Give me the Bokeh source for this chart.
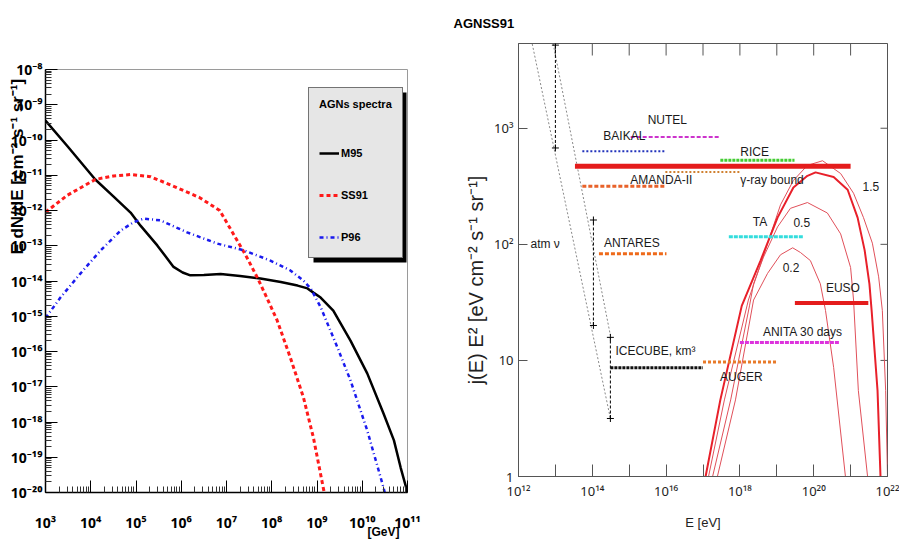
from math import pi
from bokeh.plotting import figure
from bokeh.layouts import row
from bokeh.models import FixedTicker, Label, Legend, LegendItem, BoxAnnotation
from bokeh.embed import file_html
from bokeh.resources import INLINE

SANS = "Liberation Sans"
TICKF = "Noto Sans"
SUP = str.maketrans("0123456789-", "⁰¹²³⁴⁵⁶⁷⁸⁹⁻")
EMSP = "\u2003"

# ---------------- left panel: AGN spectra (log10 E [GeV], log10 E dN/dE) ----------------
m95_logE = [3.0, 3.5, 4.1, 4.5, 4.88, 5.1, 5.47, 5.83, 6.03, 6.2, 6.5, 6.87, 7.3, 7.75, 8.2,
            8.57, 8.79, 8.92, 9.08, 9.36, 9.74, 10.11, 10.47, 10.7, 10.85, 11.0]
m95_logF = [-9.45, -10.2, -11.12, -11.6, -12.06, -12.43, -12.99, -13.6, -13.76, -13.84, -13.83,
            -13.8, -13.86, -13.93, -14.03, -14.13, -14.21, -14.33, -14.47, -14.84, -15.69,
            -16.62, -17.76, -18.52, -19.3, -20.0]
ss91_logE = [3.0, 3.48, 4.1, 4.5, 4.88, 5.32, 5.9, 6.4, 6.85, 7.2, 7.45, 7.7, 7.9, 8.12, 8.41,
             8.7, 8.92, 9.15, 9.2]
ss91_logF = [-12.05, -11.57, -11.12, -11.02, -10.98, -11.04, -11.35, -11.63, -12.0, -12.77,
             -13.33, -13.95, -14.5, -15.12, -16.17, -17.3, -18.44, -19.94, -20.3]
p96_logE = [3.0, 3.33, 3.77, 4.22, 4.66, 4.95, 5.17, 5.54, 6.13, 6.8, 7.38, 7.97, 8.41, 8.7,
            8.86, 9.08, 9.45, 9.74, 10.11, 10.47, 10.55]
p96_logF = [-15.05, -14.47, -13.79, -13.13, -12.57, -12.33, -12.23, -12.28, -12.62, -12.94,
            -13.13, -13.42, -13.7, -13.99, -14.21, -14.74, -15.88, -16.82, -18.24, -19.86, -20.3]
legend_names = ["M95", "SS91", "P96"]
left_x_decades = list(range(3, 12))      # 10^3 .. 10^11 GeV
left_y_decades = list(range(-20, -7))    # 10^-20 .. 10^-8

# ---------------- right panel: sensitivities (log10 E [eV], j(E) E^2) ----------------
band_names = ["NUTEL", "BAIKAL", "RICE", "gamma", "AMANDA-UHE", "AMANDA-II", "TA", "ANTARES",
              "EUSO", "ANITA", "ICECUBE", "AUGER"]
band_logx0 = [15.04, 13.73, 17.47, 13.53, 15.98, 13.73, 17.70, 14.18, 19.49, 18.00, 14.49, 17.00]
band_logx1 = [17.47, 16.00, 19.48, 21.00, 18.00, 16.00, 19.72, 16.01, 21.48, 20.71, 17.00, 18.99]
band_level = [841, 633, 530, 470, 420, 316, 116, 83, 31.2, 14.3, 8.65, 9.67]

# vertical atmospheric-neutrino error bars (log10 E, y_low, y_high)
atm_logx = [13.0, 14.03, 14.49]
atm_ylo = [676, 20.0, 3.16]
atm_yhi = [5200, 162, 15.8]
# atmospheric-neutrino dotted lines
atmA_logx = [12.35, 14.49]
atmA_logy = [3.76, 0.5]
atmB_logx = [12.92, 14.49]
atmB_logy = [3.76, 1.216]

# neutrino flux curves (log10 E, log10 j E^2)
c02_logx = [17.39, 17.88, 18.37, 18.75, 19.10, 19.43, 19.64, 19.91, 20.18, 20.32, 20.54, 20.86]
c02_logy = [0.0, 0.66, 1.52, 1.75, 1.91, 1.97, 1.93, 1.86, 1.66, 1.43, 0.94, 0.0]
c05_logx = [17.26, 17.75, 18.26, 18.37, 18.64, 19.02, 19.37, 19.83, 20.37, 20.73, 21.0, 21.08,
            21.21, 21.46]
c05_logy = [0.0, 0.66, 1.47, 1.66, 1.89, 2.15, 2.31, 2.36, 2.27, 2.09, 1.80, 1.52, 0.74, 0.0]
cth_logx = [17.07, 17.47, 18.05, 18.56, 19.02, 19.45, 19.83, 20.05, 20.54, 20.92, 21.19, 21.38,
            21.51, 21.57, 21.73, 21.81]
cth_logy = [0.0, 0.66, 1.47, 1.86, 2.23, 2.49, 2.59, 2.62, 2.58, 2.47, 2.23, 1.95, 1.66, 1.43,
            0.74, 0.0]
c15_logx = [17.15, 17.58, 18.23, 18.69, 19.10, 19.45, 19.83, 20.24, 20.73, 21.08, 21.35, 21.59,
            21.76, 21.86, 21.95, 22.0]
c15_logy = [0.0, 0.66, 1.52, 1.95, 2.34, 2.55, 2.68, 2.72, 2.61, 2.44, 2.23, 2.01, 1.72, 1.43,
            0.74, 0.0]
right_x_decades = list(range(12, 23))
right_y_decades = [0, 1, 2, 3]


def p10(a):
    return [10.0 ** v for v in a]


def dec(k):
    return "10" + str(k).translate(SUP)


def no_align(fig):
    try:
        fig.frame_align = False
    except Exception:
        pass


def align_end(ax):
    try:
        ax.axis_label_align = "end"
        return True
    except Exception:
        return False


# ======================= LEFT FIGURE =======================
L = figure(width=450, height=541, x_axis_type="log", y_axis_type="log",
           x_range=(1e3, 1e11), y_range=(1e-20, 1e-8),
           output_backend="svg", toolbar_location=None,
           min_border_left=45, min_border_right=43, min_border_top=69, min_border_bottom=49)
no_align(L)
L.grid.visible = False
L.outline_line_color = "#9a9a9a"
L.background_fill_color = "white"
L.border_fill_color = "white"

lxt = [10.0 ** k for k in left_x_decades]
lxm = [m * 10.0 ** k for k in left_x_decades[:-1] for m in range(2, 10)]
lyt = [10.0 ** k for k in left_y_decades]
lym = [m * 10.0 ** k for k in left_y_decades[:-1] for m in range(2, 10)]
L.xaxis.ticker = FixedTicker(ticks=lxt, minor_ticks=lxm)
L.yaxis.ticker = FixedTicker(ticks=lyt, minor_ticks=lym)
L.xaxis.major_label_overrides = {t: dec(k) for t, k in zip(lxt, left_x_decades)}
L.yaxis.major_label_overrides = {t: dec(k) for t, k in zip(lyt, left_y_decades)}
for ax in (L.xaxis[0], L.yaxis[0]):
    ax.major_tick_in = 12
    ax.major_tick_out = 0
    ax.minor_tick_in = 6
    ax.minor_tick_out = 0
    ax.axis_line_color = "black"
    ax.axis_line_width = 1.5
    ax.major_tick_line_color = "black"
    ax.minor_tick_line_color = "#333333"
    ax.major_label_text_font = TICKF
    ax.major_label_text_font_style = "bold"
    ax.major_label_text_font_size = "14px"
    ax.major_label_text_color = "black"
    ax.axis_label_text_font = SANS
    ax.axis_label_text_font_style = "bold"
    ax.axis_label_text_color = "black"
L.xaxis.major_label_standoff = 20
L.yaxis.major_label_standoff = 3

# y title pushed to the upper part of the axis (leading em-space padding),
# x title "[GeV]" at the right end of the axis
L.yaxis.axis_label = EMSP * 14 + "E  dN/dE  [cm⁻² s⁻¹ sr⁻¹]"
L.yaxis.axis_label_text_font_size = "17px"
L.yaxis.axis_label_standoff = -19
L.xaxis.axis_label = "[GeV]" + EMSP * 4
L.xaxis.axis_label_text_font_size = "12px"
L.xaxis.axis_label_standoff = -10
align_end(L.xaxis[0])

r_m95 = L.line(p10(m95_logE), p10(m95_logF), line_color="black", line_width=2.5)
r_ss91 = L.line(p10(ss91_logE), p10(ss91_logF), line_color="#ff1a1a", line_width=3,
                line_dash="4 3")
r_p96 = L.line(p10(p96_logE), p10(p96_logF), line_color="#1a1aee", line_width=2.5,
               line_dash="4 3 1 3")
renders = [r_m95, r_ss91, r_p96]

# legend drop shadow (screen px relative to the plot frame)
L.add_layout(BoxAnnotation(left=268, right=361, bottom=230, top=400, left_units="screen",
                           right_units="screen", bottom_units="screen", top_units="screen",
                           fill_color="black", fill_alpha=1.0, line_color=None))

legend = Legend(items=[LegendItem(label=n, renderers=[r]) for n, r in zip(legend_names, renders)],
                location=(263, 234), title="AGNs spectra",
                title_text_font=SANS, title_text_font_style="bold",
                title_text_font_size="11px", title_text_color="black", title_standoff=33,
                label_text_font=SANS, label_text_font_style="bold",
                label_text_font_size="11px", label_text_color="black",
                glyph_width=20, glyph_height=20, label_standoff=2, spacing=22,
                padding=10, margin=0, background_fill_color="#e6e6e6",
                background_fill_alpha=1, border_line_color="black", border_line_width=1)
L.add_layout(legend, "center")

# ======================= RIGHT FIGURE =======================
ytop = 10 ** 3.73
R = figure(width=449, height=541, x_axis_type="log", y_axis_type="log",
           x_range=(1e12, 1e22), y_range=(1, ytop),
           output_backend="svg", toolbar_location=None,
           min_border_left=68, min_border_right=12, min_border_top=43, min_border_bottom=65)
no_align(R)
R.grid.visible = False
R.outline_line_color = "#555555"
R.background_fill_color = "white"
R.border_fill_color = "white"

# canvas title (overlapping AGN95 / SS91 in the original)
R.title.text = "AGNSS91"
R.title.align = "left"
R.title.offset = -65
R.title.standoff = 26
R.title.text_font = SANS
R.title.text_font_style = "bold"
R.title.text_font_size = "13px"
R.title.text_color = "black"

rxt = [10.0 ** k for k in right_x_decades]
ryt = [10.0 ** k for k in right_y_decades]
rx_major = [t for t, k in zip(rxt, right_x_decades) if k % 2 == 0]
rx_minor = [t for t, k in zip(rxt, right_x_decades) if k % 2 == 1]
R.xaxis.ticker = FixedTicker(ticks=rx_major, minor_ticks=rx_minor)
R.yaxis.ticker = FixedTicker(ticks=ryt)
R.xaxis.major_label_overrides = {t: dec(k) for t, k in zip(rxt, right_x_decades) if k % 2 == 0}
R.yaxis.major_label_overrides = {t: ("1" if k == 0 else "10" if k == 1 else dec(k))
                                 for t, k in zip(ryt, right_y_decades)}
for ax in (R.xaxis[0], R.yaxis[0]):
    ax.major_tick_out = 0
    ax.minor_tick_out = 0
    ax.axis_line_color = "#555555"
    ax.major_tick_line_color = "#555555"
    ax.minor_tick_line_color = "#555555"
    ax.major_label_text_font = TICKF
    ax.major_label_text_font_size = "13px"
    ax.major_label_text_color = "#222222"
    ax.axis_label_text_font_style = "normal"
    ax.axis_label_text_color = "#222222"
    ax.axis_label_text_font = SANS
R.xaxis.major_tick_in = 12
R.xaxis.minor_tick_in = 12
R.yaxis.major_tick_in = 9
R.yaxis.minor_tick_line_color = None
R.xaxis.major_label_standoff = 5
R.yaxis.major_label_standoff = 5
R.xaxis.axis_label = "E [eV]"
R.xaxis.axis_label_text_font_size = "13px"
R.xaxis.axis_label_standoff = 12
R.yaxis.axis_label = "j(E) E² [eV cm⁻² s⁻¹ sr⁻¹]" + EMSP * 2
R.yaxis.axis_label_text_font_size = "20px"
R.yaxis.axis_label_standoff = 4

# inward ticks on the top and right frame edges
R.scatter(rxt, [ytop] * len(rxt), marker="dash", angle=pi / 2, size=24,
          line_color="#555555", line_width=1)
R.scatter([1e22] * len(ryt), ryt, marker="dash", size=14, line_color="#555555", line_width=1)

# atmospheric neutrino lines
R.line(p10(atmA_logx), p10(atmA_logy), line_color="#888888", line_width=1, line_dash="2 2")
R.line(p10(atmB_logx), p10(atmB_logy), line_color="#888888", line_width=1, line_dash="2 2")
atm_x = p10(atm_logx)
R.segment(x0=atm_x, y0=atm_ylo, x1=atm_x, y1=atm_yhi, line_color="black", line_width=1,
          line_dash="3 2")
R.scatter(atm_x + atm_x, atm_ylo + atm_yhi, marker="cross", size=7, line_color="black",
          line_width=1)

band_style = {
    "NUTEL": dict(line_color="#cc33cc", line_width=2, line_dash="4 2"),
    "BAIKAL": dict(line_color="#2233bb", line_width=2, line_dash="2 2"),
    "RICE": dict(line_color="#44cc33", line_width=3, line_dash="3 1"),
    "gamma": dict(line_color="#e41c1c", line_width=5),
    "AMANDA-UHE": dict(line_color="#d08030", line_width=2, line_dash="2 2"),
    "AMANDA-II": dict(line_color="#e8622a", line_width=3, line_dash="4 2"),
    "TA": dict(line_color="#33dddd", line_width=3, line_dash="4 1"),
    "ANTARES": dict(line_color="#ee6a1a", line_width=3, line_dash="4 2"),
    "EUSO": dict(line_color="#e41c1c", line_width=4),
    "ANITA": dict(line_color="#dd33dd", line_width=3, line_dash="4 1"),
    "ICECUBE": dict(line_color="#111111", line_width=3, line_dash="3 1"),
    "AUGER": dict(line_color="#e87a2a", line_width=3, line_dash="3 2"),
}

# flux curves
R.line(p10(c02_logx), p10(c02_logy), line_color="#e0505a", line_width=1)
R.line(p10(c05_logx), p10(c05_logy), line_color="#e0505a", line_width=1)
R.line(p10(c15_logx), p10(c15_logy), line_color="#e0505a", line_width=1)
R.line(p10(cth_logx), p10(cth_logy), line_color="#e8202a", line_width=2)

for n, a, b, lv in zip(band_names, band_logx0, band_logx1, band_level):
    R.line([10.0 ** a, 10.0 ** b], [lv, lv], **band_style[n])

# labels anchored to band starts (pixel offsets)
band_labels = [("NUTEL", "NUTEL", 17, 17), ("BAIKAL", "BAIKAL", 21, 15),
               ("RICE", "RICE", 20, 8), ("AMANDA-UHE", "γ-ray bound", 75, -8),
               ("AMANDA-II", "AMANDA-II", 48, 6), ("TA", "TA", 24, 15),
               ("ANTARES", "ANTARES", 5, 11), ("EUSO", "EUSO", 31, 15),
               ("ANITA", "ANITA 30 days", 23, 10), ("ICECUBE", "ICECUBE, km³", 5, 17),
               ("AUGER", "AUGER", 17, -15)]
for key, txt, dx, dy in band_labels:
    i = band_names.index(key)
    R.add_layout(Label(x=10.0 ** band_logx0[i], y=band_level[i], x_offset=dx, y_offset=dy,
                       text=txt, text_align="left", text_baseline="middle",
                       text_font=SANS, text_font_size="12px", text_color="#1a1a1a"))

curve_labels = [("1.5", c15_logx, c15_logy, 40, -26), ("0.5", c05_logx, c05_logy, -14, -20),
                ("0.2", c02_logx, c02_logy, -10, -20)]
for txt, cx, cy, dx, dy in curve_labels:
    j = cy.index(max(cy))
    R.add_layout(Label(x=10.0 ** cx[j], y=10.0 ** cy[j], x_offset=dx, y_offset=dy, text=txt,
                       text_align="left", text_baseline="middle", text_font=SANS,
                       text_font_size="12px", text_color="#1a1a1a"))

R.add_layout(Label(x=1e12, y=100, x_offset=12, y_offset=0, text="atm ν", text_align="left",
                   text_baseline="middle", text_font=SANS, text_font_size="12px",
                   text_color="#1a1a1a"))

layout = row(L, R)
open("out.html", "w").write(file_html(layout, INLINE))
